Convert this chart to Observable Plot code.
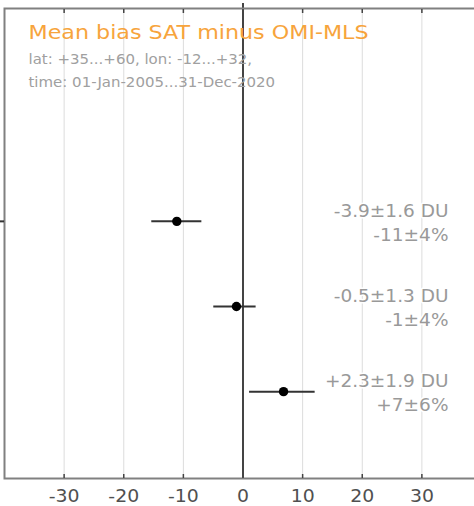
<!DOCTYPE html>
<html>
<head>
<meta charset="utf-8">
<script src="https://cdn.jsdelivr.net/npm/d3@7"></script>
<script src="https://cdn.jsdelivr.net/npm/@observablehq/plot@0.6"></script>
<style>
  html, body { margin: 0; padding: 0; background: #fff; overflow: hidden; }
  #chart { width: 474px; height: 506px; overflow: hidden; }
  #chart svg { max-width: none !important; }
</style>
</head>
<body>
<div id="chart"></div>
<script>
// Data
const rows = [1, 2, 3];
const biasPct = [-11.1, -1.1, 6.8];
const lowPct = [-15.3, -4.9, 1.1];
const highPct = [-6.9, 2.2, 12.1];
const labelDU = ["-3.9\u00b11.6 DU", "-0.5\u00b11.3 DU", "+2.3\u00b11.9 DU"];
const labelPct = ["-11\u00b14%", "-1\u00b14%", "+7\u00b16%"];
const xTicks = [-30, -20, -10, 0, 10, 20, 30];
const gridTicks = [-30, -20, -10, 10, 20, 30];
const title = "Mean bias SAT minus OMI-MLS";
const subtitle1 = "lat: +35...+60, lon: -12...+32,";
const subtitle2 = "time: 01-Jan-2005...31-Dec-2020";

const data = rows.map((r, i) => ({
  row: r, bias: biasPct[i], lo: lowPct[i], hi: highPct[i],
  du: labelDU[i], pct: labelPct[i]
}));

const font = "'DejaVu Sans', Verdana, sans-serif";

const chart = Plot.plot({
  width: 482,
  height: 506,
  marginLeft: 4,
  marginRight: 1,
  marginTop: 8,
  marginBottom: 28,
  style: { fontFamily: font, background: "#fff", overflow: "visible", maxWidth: "none" },
  x: { domain: [-40, 40] },
  y: { domain: [-1.5, 4.02], reverse: true },
  marks: [
    Plot.ruleX(gridTicks, { stroke: "#dcdcdc", strokeWidth: 1 }),
    Plot.ruleX([0], { stroke: "#444", strokeWidth: 2, insetTop: -5 }),
    Plot.frame({ stroke: "#808080", strokeWidth: 2 }),
    // inward ticks, bottom and top
    Plot.axisX({ anchor: "bottom", ticks: xTicks, tickSize: -4, text: null, stroke: "#444", strokeWidth: 1.5 }),
    Plot.axisX({ anchor: "top", ticks: xTicks, tickSize: -4, text: null, stroke: "#444", strokeWidth: 1.5 }),
    Plot.axisX({ anchor: "bottom", ticks: xTicks, tickSize: 0, tickPadding: 11, tickFormat: d => String(d),
                 fontSize: 17, fill: "#505050", textStroke: "#fff", textStrokeWidth: 3, label: null,
                 className: "stretch-ticks" }),
    Plot.axisY({ anchor: "left", ticks: [1], tickSize: 4, text: null, stroke: "#333", strokeWidth: 2, label: null }),
    // error bars and points
    Plot.ruleY(data, { y: "row", x1: "lo", x2: "hi", stroke: "#333", strokeWidth: 2 }),
    Plot.dot(data, { x: "bias", y: "row", r: 4.7, fill: "#000", stroke: "none" }),
    // value labels
    Plot.text(data, { y: "row", text: "du", frameAnchor: "right", dx: -33, dy: -10, textAnchor: "end",
                      fontSize: 17, fill: "#999", stroke: "#fff", strokeWidth: 3, paintOrder: "stroke",
                      className: "stretch-vals" }),
    Plot.text(data, { y: "row", text: "pct", frameAnchor: "right", dx: -33, dy: 14, textAnchor: "end",
                      fontSize: 17, fill: "#999", stroke: "#fff", strokeWidth: 3, paintOrder: "stroke",
                      className: "stretch-vals" }),
    // title and subtitle
    Plot.text([title], { frameAnchor: "top-left", dx: 24, dy: 30, lineAnchor: "bottom", textAnchor: "start",
                         fontSize: 19, fill: "#f7a43c", className: "stretch-title" }),
    Plot.text([subtitle1], { frameAnchor: "top-left", dx: 24, dy: 55, lineAnchor: "bottom", textAnchor: "start",
                             fontSize: 14, fill: "#a0a0a0", className: "stretch-sub" }),
    Plot.text([subtitle2], { frameAnchor: "top-left", dx: 24, dy: 78, lineAnchor: "bottom", textAnchor: "start",
                             fontSize: 14, fill: "#a0a0a0", className: "stretch-sub" })
  ]
});
document.getElementById("chart").appendChild(chart);

// The reference's lettering is horizontally wider than DejaVu Sans: widen each text around its anchor.
function stretch(selector, s) {
  d3.select(chart).selectAll(selector + " text").each(function() {
    const t = this.getAttribute("transform") || "";
    const xa = this.getAttribute("x");
    let pre = t;
    if (xa != null && !isNaN(+xa)) {
      pre = `${t} translate(${+xa},0)`;
      this.removeAttribute("x");
    }
    this.setAttribute("transform", `${pre} scale(${s},1)`);
  });
}
stretch(".stretch-ticks", 1.11);
stretch(".stretch-vals", 1.09);
stretch(".stretch-title", 1.17);
stretch(".stretch-sub", 1.07);
</script>
</body>
</html>
